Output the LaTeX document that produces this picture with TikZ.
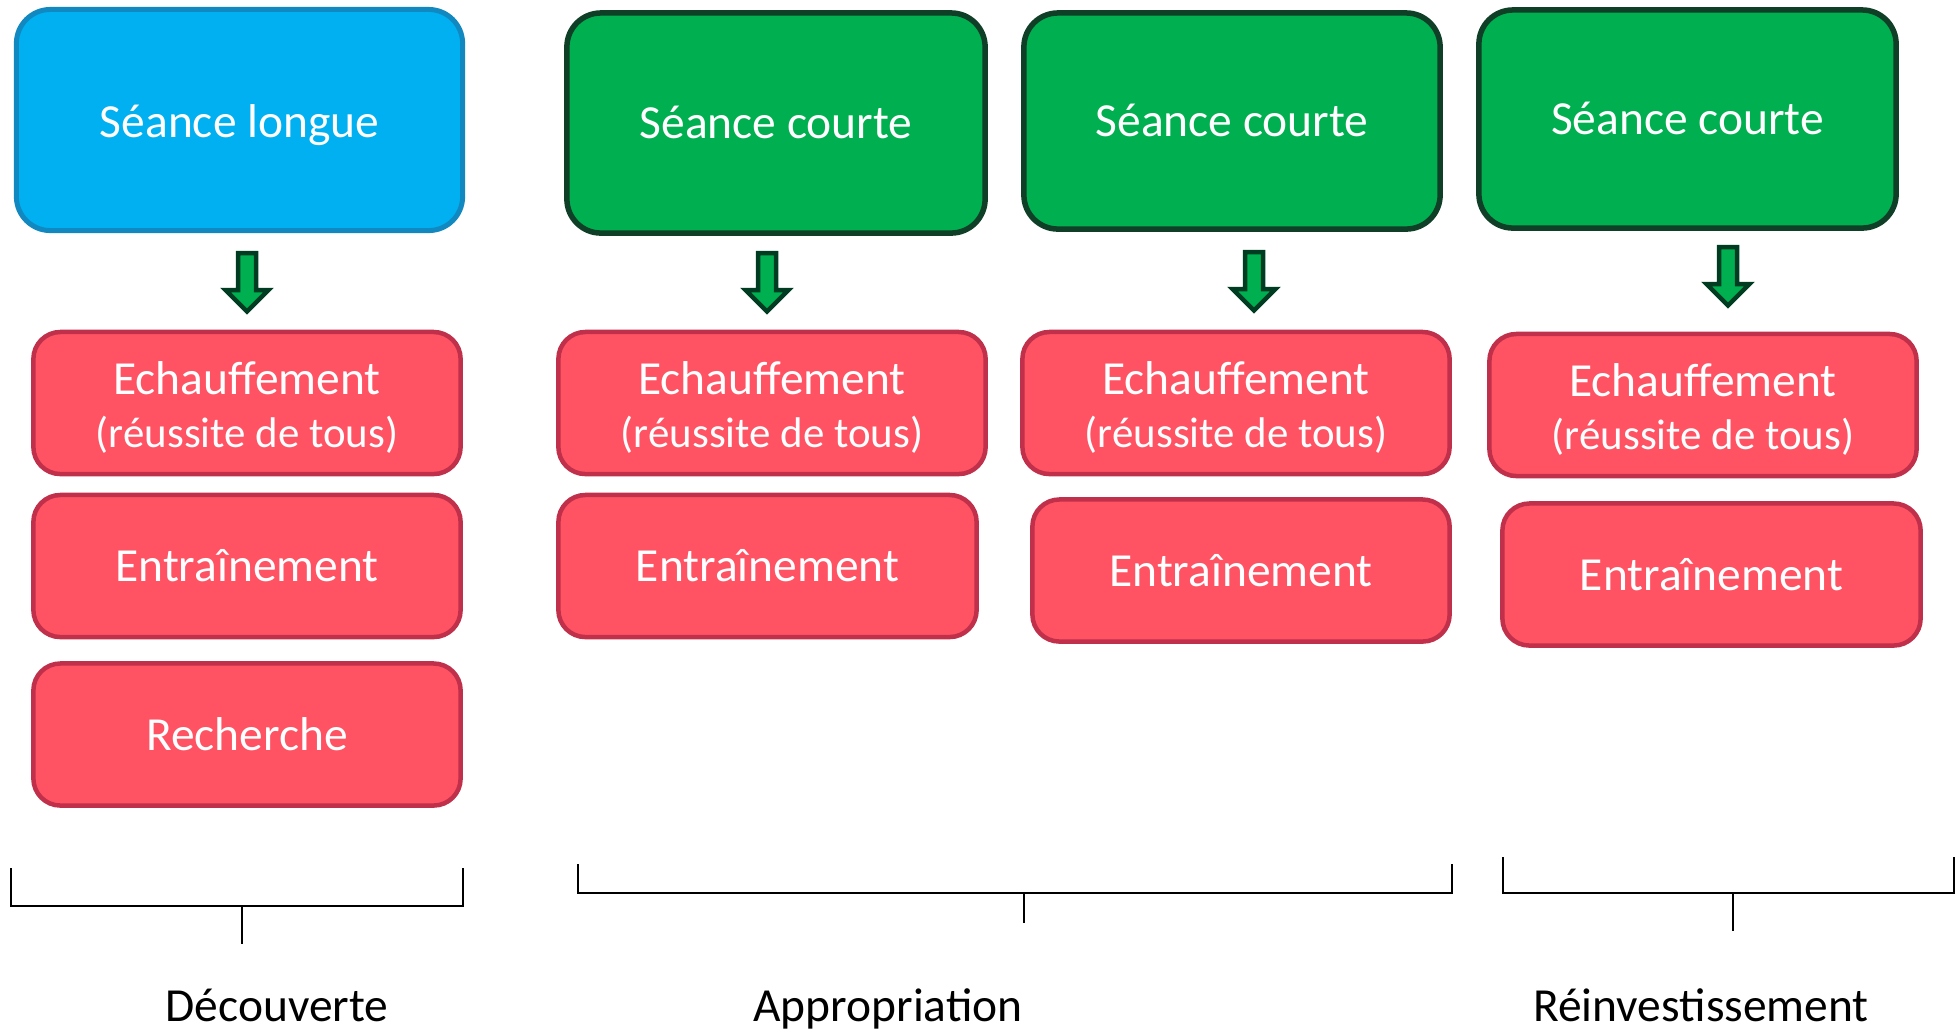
\documentclass[tikz,border=0pt]{standalone}
\usepackage{fontspec}
\setmainfont{Carlito}
\usepackage{tikz}
\usetikzlibrary{positioning}

\definecolor{bleuFond}{HTML}{00B0F0}
\definecolor{bleuBord}{HTML}{1189C0}
\definecolor{vertFond}{HTML}{00B050}
\definecolor{vertBord}{HTML}{0F3F26}
\definecolor{rougeFond}{HTML}{FF5364}
\definecolor{rougeBord}{HTML}{C0304A}
\definecolor{flecheBord}{HTML}{003C22}

\newcommand{\petit}{\fontsize{12.2}{15}\selectfont}
% fleche epaisse vers le bas, centree sur une coordonnee
\newcommand{\flechebas}[1]{\draw[fleche] (#1) ++(-9,-30) -- ++(18,0) -- ++(0,37) -- ++(12.5,0) -- ++(-21.5,21.5) -- ++(-21.5,-21.5) -- ++(12.5,0) -- cycle;}

\begin{document}
\begin{tikzpicture}[
    x=0.01cm, y=-0.01cm,
    txt/.style={font=\fontsize{13.5}{15}\selectfont},
    longue/.style={rectangle, rounded corners=0.34cm, draw=bleuBord, fill=bleuFond, line width=0.05cm, text=white, txt, text height=0.44cm, text depth=0.1cm},
    courte/.style={rectangle, rounded corners=0.34cm, draw=vertBord, fill=vertFond, line width=0.055cm, text=white, txt, text height=0.4cm, text depth=0.1cm},
    activ/.style={rectangle, rounded corners=0.27cm, draw=rougeBord, fill=rougeFond, line width=0.045cm, text=white, align=center, txt, minimum height=1.42cm},
    echauf/.style={activ, text height=0.98cm, text depth=0.1cm},
    fleche/.style={draw=flecheBord, fill=vertFond, line width=0.045cm, line join=miter},
    crochet/.style={line width=0.6pt},
    phase/.style={txt, anchor=base}
]
\useasboundingbox (0,0) rectangle (1958,1032);

% === Decouverte ===
\node[longue, minimum width=4.46cm, minimum height=2.21cm] (seanceD) at (239.5,120) {Séance longue};
\coordinate (flD) at (247,283);
\node[echauf, minimum width=4.27cm] (echD) at (247,403) {Echauffement\\{\petit(réussite de tous)}};
\node[activ, minimum width=4.27cm] (entD) at (247,566) {Entraînement};
\node[activ, minimum width=4.27cm] (rechD) at (247,734.5) {Recherche};
\flechebas{flD}

% === Appropriation ===
\node[courte, minimum width=4.18cm, minimum height=2.2cm] (seanceA) at (776,123) {Séance courte};
\coordinate (flA) at (767,283);
\node[echauf, minimum width=4.27cm] (echA) at (772,403) {Echauffement\\{\petit(réussite de tous)}};
\node[activ, minimum width=4.18cm] (entA) at (767.5,566) {Entraînement};
\flechebas{flA}

\node[courte, minimum width=4.16cm, minimum height=2.16cm] (seanceB) at (1232,121) {Séance courte};
\coordinate (flB) at (1254,282);
\node[echauf, minimum width=4.27cm] (echB) at (1236,403) {Echauffement\\{\petit(réussite de tous)}};
\node[activ, minimum width=4.17cm] (entB) at (1241,570.5) {Entraînement};
\flechebas{flB}

% === Reinvestissement ===
\node[courte, minimum width=4.17cm, minimum height=2.18cm] (seanceR) at (1687.5,119) {Séance courte};
\coordinate (flR) at (1728,277);
\node[echauf, minimum width=4.27cm] (echR) at (1703,405) {Echauffement\\{\petit(réussite de tous)}};
\node[activ, minimum width=4.18cm] (entR) at (1711.5,574.5) {Entraînement};
\flechebas{flR}

% Accolades
\draw[crochet] (11,868) |- (463,906) -- (463,868);
\draw[crochet] (242,906) -- (242,944);
\draw[crochet] (578,864) |- (1452,893) -- (1452,864);
\draw[crochet] (1024,893) -- (1024,923);
\draw[crochet] (1503,857) |- (1954,893) -- (1954,857);
\draw[crochet] (1733,893) -- (1733,931);

% Phases
\node[phase] (decouv) at (277,1021) {Découverte};
\node[phase] (approp) at (888,1021) {Appropriation};
\node[phase] (reinv) at (1701,1021) {Réinvestissement};
\end{tikzpicture}
\end{document}
